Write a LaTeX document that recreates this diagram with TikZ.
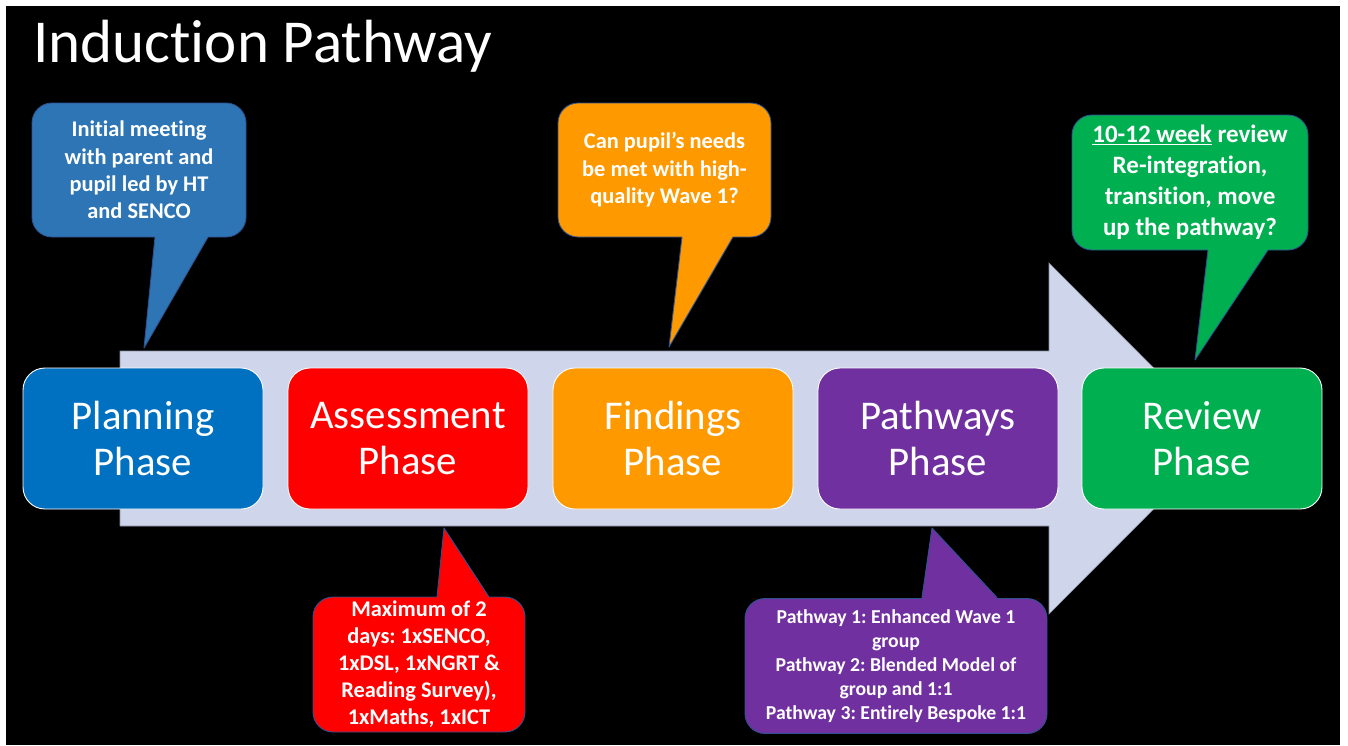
\documentclass[tikz,border=0pt]{standalone}
\usepackage{fontspec}
\setmainfont{Carlito}[Ligatures={NoCommon}]
\frenchspacing
\definecolor{arrowfill}{HTML}{CFD5EA}
\definecolor{arrowedge}{HTML}{8A8FA3}
\definecolor{planblue}{HTML}{0070C0}
\definecolor{noteblue}{HTML}{2E75B6}
\definecolor{assessred}{HTML}{FF0000}
\definecolor{findorange}{HTML}{FF9900}
\definecolor{pathpurple}{HTML}{7030A0}
\definecolor{reviewgreen}{HTML}{00B050}
\definecolor{noteedge}{HTML}{2F528F}
\tikzset{
  phasebox/.style={draw=white, line width=0.9pt, rounded corners=22pt,
    minimum width=240pt, minimum height=141pt, inner sep=0pt, align=center,
    text=white, font=\fontsize{40.8}{46}\selectfont},
  notebox/.style={draw=noteedge, line width=0.9pt, rounded corners=20pt,
    inner sep=0pt, align=center, text=white},
  tailedge/.style={draw=noteedge, line width=0.9pt, line join=round},
}
\begin{document}
\begin{tikzpicture}[x=1pt,y=-1pt]
\useasboundingbox (0,0) rectangle (1348,745);
\fill[white] (0,0) rectangle (1348,745);
\fill[black] (6,6) rectangle (1340,745);

\node[anchor=base west, inner sep=0pt, text=white, font=\fontsize{61}{61}\selectfont] (title) at (33,62) {Induction Pathway};

% big arrow
\filldraw[fill=arrowfill, draw=arrowedge, line width=0.6pt]
  (120,351) -- (1049,351) -- (1049,263) -- (1224,438.5) -- (1049,614) -- (1049,526) -- (120,526) -- cycle;

% phases
\node[phasebox, fill=planblue] (plan) at (143,438.5) {Planning\\Phase};
\node[phasebox, fill=assessred] (assess) at (408,438.5) {Assessment\\Phase};
\node[phasebox, fill=findorange] (find) at (673,438.5) {Findings\\Phase};
\node[phasebox, fill=pathpurple] (paths) at (938,438.5) {Pathways\\Phase};
\node[phasebox, fill=reviewgreen] (review) at (1202,438.5) {Review\\Phase};

% callout: planning
\node[notebox, fill=noteblue, minimum width=214pt, minimum height=134pt,
  font=\bfseries\fontsize{22.4}{27.3}\selectfont] (noteplan) at (139,170)
  {Initial meeting\\with parent and\\pupil led by HT\\and SENCO};
\fill[noteblue] (155,234) -- (155,237) -- (144,348) -- (208,237) -- (208,234) -- cycle;
\draw[tailedge] (155,237) -- (144,348) -- (208,237);

% callout: findings
\node[notebox, fill=findorange, minimum width=213pt, minimum height=134pt,
  font=\bfseries\fontsize{22.4}{27.5}\selectfont] (notefind) at (664.5,170)
  {Can pupil’s needs\\be met with high-\\quality Wave 1?};
\fill[findorange] (682,234) -- (682,237) -- (669,347) -- (733,237) -- (733,234) -- cycle;
\draw[tailedge] (682,237) -- (669,347) -- (733,237);

% callout: review
\node[notebox, fill=reviewgreen, minimum width=236pt, minimum height=135pt,
  font=\bfseries\fontsize{25}{31}\selectfont] (notereview) at (1190,182.5)
  {\underline{10-12 week} review\\Re-integration,\\transition, move\\up the pathway?};
\fill[reviewgreen] (1208,247) -- (1208,250) -- (1195,360) -- (1268,250) -- (1268,247) -- cycle;
\draw[tailedge] (1208,250) -- (1195,360) -- (1268,250);

% callout: assessment
\node[notebox, fill=assessred, minimum width=212pt, minimum height=135pt,
  font=\bfseries\fontsize{22.4}{27}\selectfont] (noteassess) at (419,664.5)
  {Maximum of 2\\days: 1xSENCO,\\1xDSL, 1xNGRT \&\\Reading Survey),\\1xMaths, 1xICT};
\fill[assessred] (437,600) -- (437,597) -- (444,528) -- (489,597) -- (489,600) -- cycle;
\draw[tailedge] (437,597) -- (444,528) -- (489,597);

% callout: pathways
\node[notebox, fill=pathpurple, minimum width=302pt, minimum height=135pt,
  font=\bfseries\fontsize{19.7}{23.9}\selectfont] (notepaths) at (896,666)
  {Pathway 1: Enhanced Wave 1\\group\\Pathway 2: Blended Model of\\group and 1:1\\Pathway 3: Entirely Bespoke 1:1};
\fill[pathpurple] (922,600) -- (922,597.5) -- (932,528) -- (997,597.5) -- (997,600) -- cycle;
\draw[tailedge] (922,597.5) -- (932,528) -- (997,597.5);
\end{tikzpicture}
\end{document}
